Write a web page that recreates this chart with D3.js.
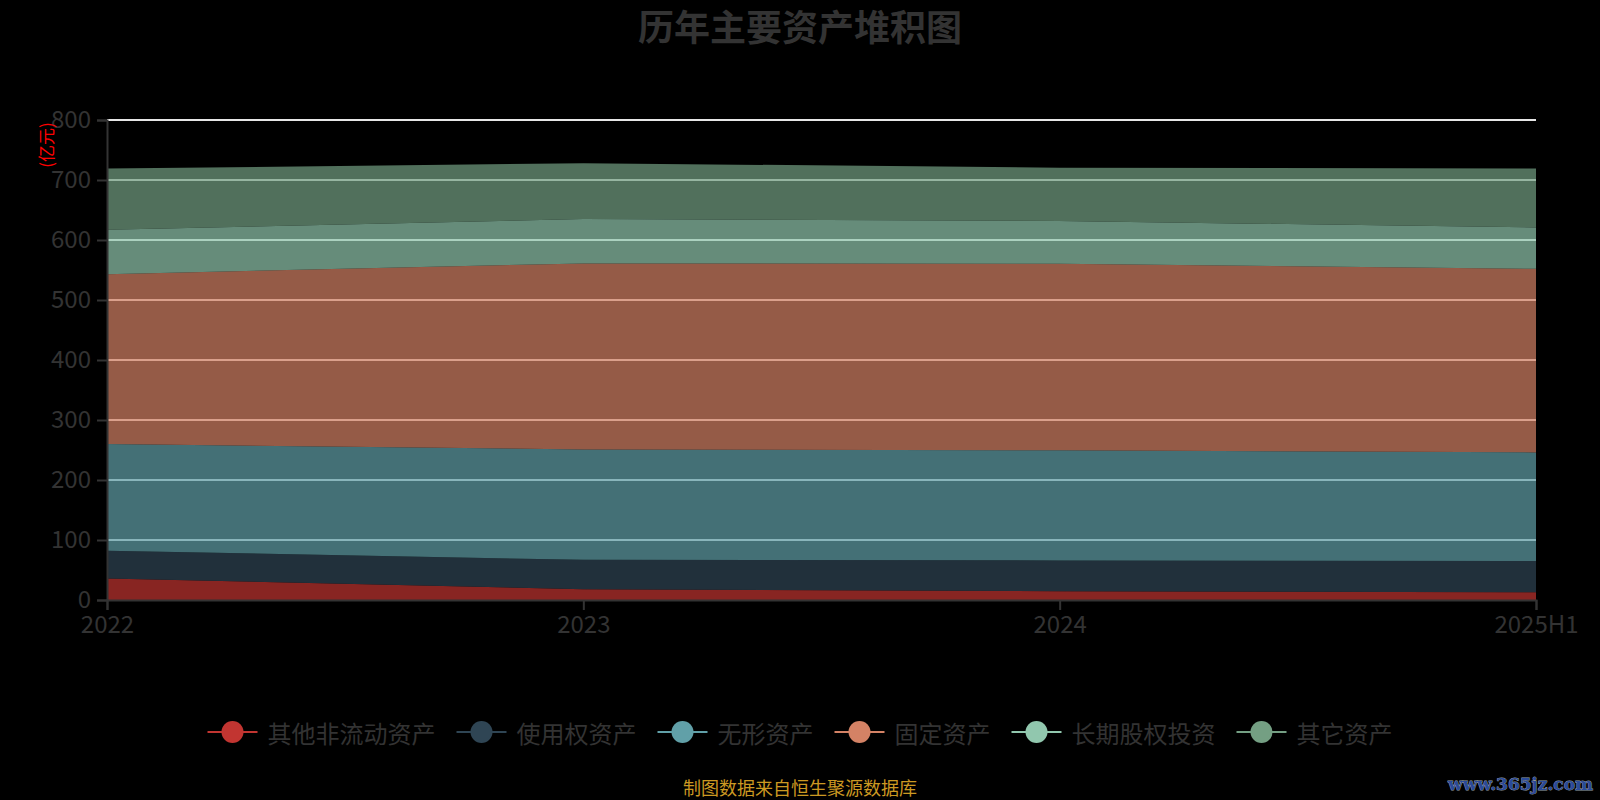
<!DOCTYPE html>
<html>
<head>
<meta charset="utf-8">
<script src="https://cdn.jsdelivr.net/npm/d3@7/dist/d3.min.js"></script>
<style>
html,body{margin:0;padding:0;background:#000;}
svg{display:block;font-family:"Noto Sans CJK SC","Noto Sans",sans-serif;}
</style>
</head>
<body>
<svg id="chart" width="1600" height="800"></svg>
<script>
const categories = ["2022", "2023", "2024", "2025H1"];
const seriesNames = ["其他非流动资产", "使用权资产", "无形资产", "固定资产", "长期股权投资", "其它资产"];
const seriesColors = ["#c23531", "#2f4554", "#61a0a8", "#d48265", "#91c7ae", "#749f83"];
const otherNonCurrent = [36, 18, 14.5, 13];
const rightOfUse = [46, 49, 51.5, 52];
const intangible = [178, 184, 183.4, 181];
const fixedAssets = [283, 310, 311, 306];
const longTermEquity = [74, 74, 71.2, 69];
const otherAssets = [102, 93, 89, 98];
const yTicks = [0, 100, 200, 300, 400, 500, 600, 700, 800];

const seriesValues = [otherNonCurrent, rightOfUse, intangible, fixedAssets, longTermEquity, otherAssets];
const table = categories.map((c, i) => {
  const row = {cat: c};
  seriesNames.forEach((n, k) => row[n] = seriesValues[k][i]);
  return row;
});

const svg = d3.select("#chart");
const W = 1600, H = 800;
svg.append("rect").attr("width", W).attr("height", H).attr("fill", "#000");

const margin = {left: 107, right: 64, top: 120, bottom: 200};
const x = d3.scalePoint().domain(categories).range([margin.left, W - margin.right]);
const y = d3.scaleLinear().domain([0, 800]).range([H - margin.bottom, margin.top]);

// grid
svg.append("g").selectAll("line").data(yTicks.filter(t => t > 0)).join("line")
  .attr("x1", margin.left).attr("x2", W - margin.right)
  .attr("y1", d => y(d)).attr("y2", d => y(d))
  .attr("stroke", "#e6e6e6").attr("stroke-width", 2);

// stacked areas
const stack = d3.stack().keys(seriesNames);
const stacked = stack(table);
const area = d3.area()
  .x(d => x(d.data.cat))
  .y0(d => y(d[0]))
  .y1(d => y(d[1]));
svg.append("g").selectAll("path").data(stacked).join("path")
  .attr("d", area)
  .attr("fill", (d, i) => seriesColors[i])
  .attr("fill-opacity", 0.7);

// axes
const axisColor = "#333";
const yAxis = svg.append("g").attr("transform", `translate(${margin.left},0)`)
  .call(d3.axisLeft(y).tickValues(yTicks).tickSize(10).tickPadding(6));
yAxis.select(".domain").attr("stroke", axisColor).attr("stroke-width", 2);
yAxis.selectAll(".tick line").attr("stroke", axisColor).attr("stroke-width", 2);
yAxis.selectAll(".tick text").attr("fill", "#333").attr("font-size", 24)
  .attr("font-family", "'Noto Sans CJK SC', sans-serif");

const xAxis = svg.append("g").attr("transform", `translate(0,${H - margin.bottom})`)
  .call(d3.axisBottom(x).tickSizeOuter(0).tickSize(10).tickPadding(6));
xAxis.select(".domain").attr("stroke", axisColor).attr("stroke-width", 2);
xAxis.selectAll(".tick line").attr("stroke", axisColor).attr("stroke-width", 2);
xAxis.selectAll(".tick text").attr("fill", "#333").attr("font-size", 24)
  .attr("font-family", "'Noto Sans CJK SC', sans-serif");

// y axis name
svg.append("text").attr("transform", "translate(45,145) rotate(-90)")
  .attr("text-anchor", "middle").attr("dominant-baseline", "central")
  .attr("fill", "#ff0000").attr("font-size", 17).text("(亿元)");

// title
svg.append("text").attr("x", 800).attr("y", 25)
  .attr("text-anchor", "middle").attr("dominant-baseline", "central")
  .attr("fill", "#333").attr("font-size", 36).attr("font-weight", "bold")
  .text("历年主要资产堆积图");

// legend
const fs = 24, iconW = 50, iconGap = 10, itemGap = 21;
const widths = seriesNames.map(n => iconW + iconGap + n.length * fs);
const total = d3.sum(widths) + itemGap * (seriesNames.length - 1);
let lx = 800 - total / 2;
const ly = 732;
const legend = svg.append("g");
seriesNames.forEach((n, i) => {
  const g = legend.append("g").attr("transform", `translate(${lx},${ly})`);
  g.append("line").attr("x1", 0).attr("x2", iconW).attr("y1", 0).attr("y2", 0)
    .attr("stroke", seriesColors[i]).attr("stroke-width", 2);
  g.append("circle").attr("cx", iconW / 2).attr("cy", 0).attr("r", 11)
    .attr("fill", seriesColors[i]);
  g.append("text").attr("x", iconW + iconGap).attr("y", 0)
    .attr("dominant-baseline", "central").attr("fill", "#333")
    .attr("font-size", fs).text(n);
  lx += widths[i] + itemGap;
});

// footer
svg.append("text").attr("x", 800).attr("y", 787)
  .attr("text-anchor", "middle").attr("dominant-baseline", "central")
  .attr("fill", "#cc9922").attr("font-size", 18).text("制图数据来自恒生聚源数据库");

// watermark
svg.append("text").attr("x", 1593).attr("y", 784)
  .attr("text-anchor", "end").attr("dominant-baseline", "central")
  .attr("fill", "#2a4a9a").attr("stroke", "#9aa0aa").attr("stroke-width", 0.8)
  .attr("paint-order", "stroke")
  .attr("font-family", "'DejaVu Serif', serif").attr("font-weight", "bold")
  .attr("font-size", 17).text("www.365jz.com");
</script>
</body>
</html>
